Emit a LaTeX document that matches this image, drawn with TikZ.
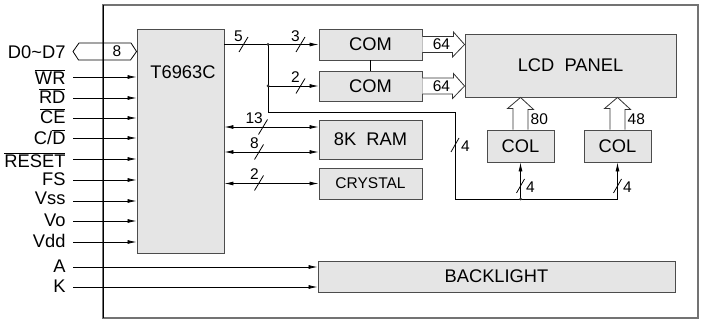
\documentclass[tikz,border=0pt]{standalone}
\usepackage{fontspec}
\setmainfont{Liberation Sans}
\usetikzlibrary{arrows.meta,calc}
\newcommand\ovl[1]{\leavevmode\vbox{\hrule height 0.9pt\kern1.2pt\hbox{#1}}}
\begin{document}
\begin{tikzpicture}[x=1pt,y=-1pt,
  blk/.style={draw=black!70, fill=black!10, line width=0.9pt, inner sep=0pt},
  arr/.style={-{Latex[length=9pt,width=4pt]}, line width=0.8pt},
  arrr/.style={{Latex[length=9pt,width=4pt]}-{Latex[length=9pt,width=4pt]}, line width=0.8pt},
  lab/.style={font=\fontsize{18.3pt}{21pt}\selectfont},
  num/.style={font=\fontsize{15.5pt}{17pt}\selectfont, inner sep=0pt},
  hol/.style={draw=black!80, line width=0.8pt, fill=white},
  slsh/.style={line width=0.8pt},
  jdot/.style={circle, fill=black!80, inner sep=0pt, minimum size=3pt}
]
\useasboundingbox (0,0) rectangle (705,320);
% frame
\draw[black!55, line width=1.1pt] (103,5) rectangle (698,318);
\draw[black, line width=1pt] (103,5) -- (103,318);

% blocks
\node[blk, minimum width=87pt, minimum height=224pt] (chip) at (180.5,141) {};
\node[lab] (chipt) at (183,72) {T6963C};
\node[blk, lab, minimum width=103pt, minimum height=31pt] (com1) at (370.5,44.5) {COM};
\node[blk, lab, minimum width=103pt, minimum height=30pt] (com2) at (370.5,86) {COM};
\node[blk, lab, minimum width=103pt, minimum height=39pt] (ram) at (370.5,139.5) {8K\ \ RAM};
\node[blk, minimum width=103pt, minimum height=31pt, font=\fontsize{15.5pt}{17pt}\selectfont] (crys) at (370.5,183.5) {CRYSTAL};
\node[blk, lab, minimum width=211pt, minimum height=63pt] (lcd) at (570.5,65.5) {LCD\ \ PANEL};
\node[blk, lab, minimum width=67pt, minimum height=32pt] (col1) at (520.5,146) {COL};
\node[blk, lab, minimum width=67pt, minimum height=32pt] (col2) at (617.5,146) {COL};
\node[blk, lab, minimum width=357pt, minimum height=31pt] (back) at (496.5,276.5) {BACKLIGHT};

% data bus
\coordinate (hx) at (73,51.5);
\draw[line width=0.8pt] (hx) -- ++(6,-8.5) -- ++(52,0) -- (hx -| chip.west) -- ++(-6,8.5) -- ++(-52,0) -- cycle;
\node[num] (n8) at (117,51.5) {8};
\node[lab, anchor=base east] (lD) at (69,59) {D0\textasciitilde D7};

% control signals
\coordinate (sWR) at (73,77);
\coordinate (sRD) at (73,98);
\coordinate (sCE) at (73,118);
\coordinate (sCD) at (73,138);
\coordinate (sRS) at (73,159);
\coordinate (sFS) at (73,180);
\coordinate (sVss) at (73,201);
\coordinate (sVo) at (73,221);
\coordinate (sVdd) at (73,242);
\coordinate (sA) at (73,267);
\coordinate (sK) at (73,287);
\foreach \s in {sWR,sRD,sCE,sCD,sRS,sFS,sVss,sVo,sVdd}{
  \draw[arr] (\s) -- (\s -| chip.west);
}
\draw[arr] (sA) -- (sA -| back.west);
\draw[arr] (sK) -- (sK -| back.west);
\node[lab, anchor=base east] (lWR) at (69,85) {\ovl{WR}};
\node[lab, anchor=base east] (lRD) at (69,104) {\ovl{RD}};
\node[lab, anchor=base east] (lCE) at (69,124) {\ovl{CE}};
\node[lab, anchor=base east] (lCD) at (69,145) {C/\ovl{D}};
\node[lab, anchor=base east] (lRS) at (69,168) {\ovl{RESET}};
\node[lab, anchor=base east] (lFS) at (69,186) {FS};
\node[lab, anchor=base east] (lVss) at (69,205) {Vss};
\node[lab, anchor=base east] (lVo) at (69,227) {Vo};
\node[lab, anchor=base east] (lVdd) at (69,248) {Vdd};
\node[lab, anchor=base east] (lA) at (69,273) {A};
\node[lab, anchor=base east] (lK) at (69,293) {K};

% COM bus
\coordinate (j1) at (268,44.5);
\coordinate (j2) at (j1 |- com2.west);
\coordinate (t1) at (268,112);
\coordinate (t2) at (455,112);
\coordinate (t3) at (455,199);
\coordinate (j3) at (col1.south |- t3);
\draw[arr] (chip.east |- com1.west) -- (com1.west);
\draw[arr] (j2) -- (com2.west);
\draw[arr] (j1) -- (t1) -- (t2) -- (t3) -| (col2.south);
\draw[arr] (j3) -- (col1.south);
\node[jdot] at (j1) {};
\node[jdot] at (j2) {};
\node[jdot] at (j3) {};
\draw[line width=0.8pt] (com1.south) -- (com2.north);

% bus marks (horizontal)
\draw[slsh] (239,52) -- (248,37);  \node[num, anchor=base east] at (243,41.5) {5};
\draw[slsh] (296,52) -- (305,37);  \node[num, anchor=base east] at (300,41.5) {3};
\draw[slsh] (296,93.5) -- (305,78.5); \node[num, anchor=base east] at (300,83) {2};

% RAM / crystal
\coordinate (r1) at ([yshift=12.5pt]ram.west);
\coordinate (r2) at ([yshift=-12.5pt]ram.west);
\draw[arrr] (chip.east |- r1) -- (r1);
\draw[arrr] (chip.east |- r2) -- (r2);
\draw[arrr] (chip.east |- crys.west) -- (crys.west);
\draw[slsh] (258.5,134.5) -- (267.5,119.5); \node[num, anchor=base east] at (263,124) {13};
\draw[slsh] (254.5,159.5) -- (263.5,144.5); \node[num, anchor=base east] at (259,149) {8};
\draw[slsh] (254.5,190.5) -- (263.5,175.5); \node[num, anchor=base east] at (259,180) {2};

% vertical bus marks
\draw[slsh] (451,152) -- (459,138); \node[num, anchor=west] at (461,146) {4};
\draw[slsh] (516.5,193) -- (524.5,179); \node[num, anchor=west] at (526,187) {4};
\draw[slsh] (613.5,193) -- (621.5,179); \node[num, anchor=west] at (623,187) {4};

% hollow arrows COM -> LCD
\draw[hol] ($(com1.east)+(0,-8)$) -- ++(31,0) -- ++(0,-4.5) -- (lcd.west |- com1.east) -- ++(-12,12.5) -- ++(0,-4.5) -- ($(com1.east)+(0,8)$);
\node[num] at ($(com1.east)+(19,0)$) {64};
\draw[hol] ($(com2.east)+(0,-8)$) -- ++(31,0) -- ++(0,-4.5) -- (lcd.west |- com2.east) -- ++(-12,12.5) -- ++(0,-4.5) -- ($(com2.east)+(0,8)$);
\node[num] at ($(com2.east)+(19,0)$) {64};

% hollow arrows COL -> LCD
\draw[hol] ($(col1.north)+(-7.5,0)$) -- ++(0,-21) -- ++(-5.5,0) -- (col1.north |- lcd.south) -- ++(13,12) -- ++(-5.5,0) -- ($(col1.north)+(7.5,0)$);
\node[num, anchor=west] at ($(col1.north)+(10,-10)$) {80};
\draw[hol] ($(col2.north)+(-7.5,0)$) -- ++(0,-21) -- ++(-5.5,0) -- (col2.north |- lcd.south) -- ++(13,12) -- ++(-5.5,0) -- ($(col2.north)+(7.5,0)$);
\node[num, anchor=west] at ($(col2.north)+(10,-10)$) {48};
\end{tikzpicture}
\end{document}
